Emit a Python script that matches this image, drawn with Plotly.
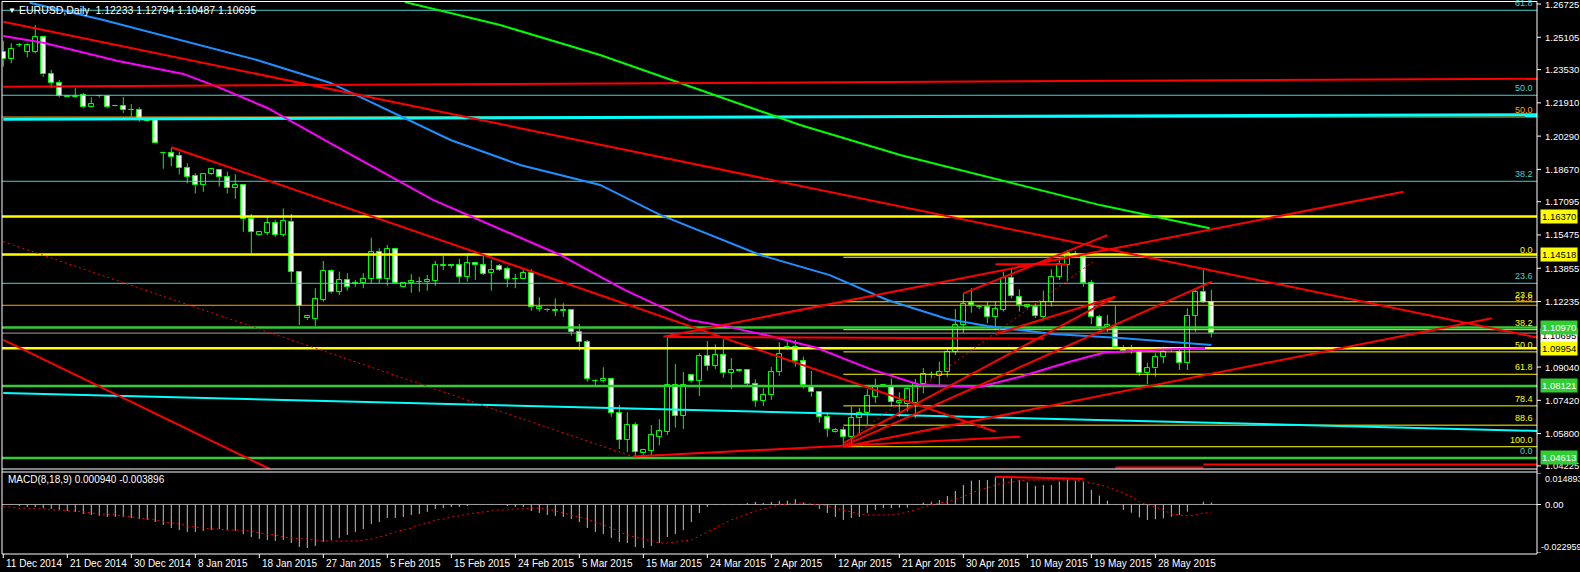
import plotly.graph_objects as go

W, H = 1580, 572

# ---------------- data ----------------
open_ = [1.2440,1.2403,1.2472,1.2440,1.2440,1.2510,1.2330,1.2286,1.2224,1.2218,
         1.2228,1.2169,1.2226,1.2224,1.2174,1.2174,1.2156,1.2156,1.2105,1.2107,
         1.1949,1.1945,1.1932,1.1874,1.1835,1.1789,1.1844,1.1862,1.1828,1.1775,
         1.1791,1.1624,1.1549,1.1559,1.1604,1.1549,1.1609,1.1366,1.1142,1.1140,
         1.1231,1.1371,1.1271,1.1327,1.1312,1.1312,1.1334,1.1463,1.1334,1.1478,
         1.1295,1.1312,1.1319,1.1317,1.1325,1.1397,1.1399,1.1400,1.1344,1.1409,
         1.1399,1.1361,1.1395,1.1380,1.1335,1.1334,1.1361,1.1188,1.1182,1.1176,
         1.1176,1.1181,1.1076,1.1028,1.0838,1.0836,1.0844,1.0682,1.0549,1.0620,
         1.0484,1.0497,1.0565,1.0589,1.0817,1.0667,1.0864,1.0838,1.0956,1.0911,
         1.0961,1.0877,1.0887,1.0888,1.0823,1.0740,1.0766,1.0879,1.0999,1.1000,
         1.0932,1.0808,1.0781,1.0659,1.0586,1.0596,1.0565,1.0654,1.0679,1.0760,
         1.0817,1.0808,1.0727,1.0724,1.0728,1.0821,1.0866,1.0862,1.0881,1.0977,
         1.1110,1.1215,1.1196,1.1195,1.1146,1.1182,1.1339,1.1247,1.1198,1.1198,
         1.1149,1.1220,1.1344,1.1403,1.1455,1.1442,1.1312,1.1146,1.1101,1.1101,
         1.0995,1.0978,1.0977,1.0874,1.0898,1.0955,1.0986,1.0979,1.0922,1.1153,
         1.1268,1.12233]
high = [1.2494,1.2481,1.2483,1.2481,1.2570,1.2517,1.2351,1.2302,1.2226,1.2263,
        1.2240,1.2218,1.2229,1.2229,1.2179,1.2220,1.2185,1.2169,1.2108,1.2112,
        1.1953,1.1971,1.1953,1.1897,1.1848,1.1846,1.1868,1.1866,1.1856,1.1844,
        1.1796,1.1650,1.1567,1.1635,1.1620,1.1677,1.1650,1.1369,1.1158,1.1288,
        1.1421,1.1380,1.1369,1.1361,1.1328,1.1361,1.1534,1.1483,1.1499,1.1480,
        1.1318,1.1357,1.1344,1.1353,1.1421,1.1445,1.1401,1.1431,1.1450,1.1417,
        1.1445,1.1426,1.1406,1.1393,1.1357,1.1377,1.1380,1.1244,1.1190,1.1239,
        1.1215,1.1187,1.1114,1.1036,1.0844,1.0903,1.0849,1.0719,1.0684,1.0635,
        1.0506,1.0622,1.0650,1.1047,1.0919,1.0880,1.0870,1.0971,1.1031,1.1015,
        1.1039,1.0948,1.0895,1.0893,1.0844,1.0801,1.0904,1.1025,1.1031,1.1036,
        1.0955,1.0885,1.0787,1.0684,1.0607,1.0614,1.0711,1.0706,1.0796,1.0849,
        1.0822,1.0849,1.0781,1.0804,1.0846,1.0899,1.0882,1.0930,1.0995,1.1187,
        1.1263,1.1288,1.1206,1.1222,1.1222,1.1369,1.1385,1.1283,1.1212,1.1211,
        1.1276,1.1380,1.1434,1.1474,1.1470,1.1450,1.1328,1.1158,1.1158,1.1201,
        1.1011,1.1011,1.0987,1.0925,1.0971,1.1003,1.0995,1.0987,1.1190,1.1279,
        1.1377,1.12794]
low = [1.2367,1.2384,1.2463,1.2413,1.2432,1.2318,1.2262,1.2218,1.2219,1.2215,
       1.2164,1.2167,1.2218,1.2164,1.2172,1.2142,1.2124,1.2099,1.2100,1.1995,
       1.1870,1.1883,1.1843,1.1799,1.1750,1.1758,1.1840,1.1783,1.1750,1.1724,
       1.1563,1.1458,1.1545,1.1547,1.1539,1.1539,1.1315,1.1109,1.1133,1.1104,
       1.1222,1.1263,1.1255,1.1276,1.1295,1.1288,1.1312,1.1312,1.1300,1.1309,
       1.1292,1.1266,1.1271,1.1276,1.1300,1.1377,1.1385,1.1315,1.1320,1.1328,
       1.1352,1.1276,1.1372,1.1293,1.1288,1.1333,1.1179,1.1174,1.1174,1.1153,
       1.1149,1.1057,1.0984,1.0833,1.0817,1.0828,1.0662,1.0505,1.0490,1.0467,
       1.0477,1.0476,1.0523,1.0573,1.0609,1.0602,1.0828,1.0763,1.0886,1.0895,
       1.0852,1.0797,1.0882,1.0817,1.0711,1.0714,1.0744,1.0861,1.0987,1.0906,
       1.0799,1.0760,1.0633,1.0565,1.0583,1.0524,1.0524,1.0570,1.0625,1.0730,
       1.0808,1.0711,1.0662,1.0687,1.0655,1.0776,1.0849,1.0817,1.0857,1.0963,
       1.1069,1.1169,1.1185,1.1117,1.1085,1.1174,1.1239,1.1174,1.1190,1.1143,
       1.1130,1.1198,1.1328,1.1320,1.1440,1.1295,1.1114,1.1085,1.1076,1.0995,
       1.0971,1.0968,1.0861,1.0821,1.0857,1.0922,1.0980,1.0890,1.0890,1.1076,
       1.1217,1.10487]
close = [1.2403,1.2452,1.2474,1.2471,1.2510,1.2330,1.2286,1.2224,1.2222,1.2224,
         1.2169,1.2184,1.2224,1.2169,1.2177,1.2155,1.2155,1.2107,1.2103,1.1997,
         1.1948,1.1929,1.1872,1.1831,1.1789,1.1844,1.1867,1.1828,1.1775,1.1791,
         1.1624,1.1563,1.1562,1.1604,1.1549,1.1614,1.1369,1.1203,1.1154,1.1234,
         1.1371,1.1271,1.1327,1.1295,1.1311,1.1332,1.1463,1.1332,1.1478,1.1315,
         1.1312,1.1322,1.1320,1.1328,1.1401,1.1399,1.1398,1.1344,1.1409,1.1399,
         1.1357,1.1375,1.1377,1.1334,1.1334,1.1361,1.1195,1.1195,1.1181,1.1182,
         1.1181,1.1076,1.1028,1.0846,1.0837,1.0844,1.0682,1.0549,1.0620,1.0492,
         1.0500,1.0572,1.0591,1.0817,1.0667,1.0817,1.0838,1.0956,1.0911,1.0961,
         1.0877,1.0888,1.0888,1.0823,1.0740,1.0766,1.0879,1.0966,1.1003,1.0932,
         1.0815,1.0781,1.0659,1.0604,1.0596,1.0565,1.0654,1.0679,1.0763,1.0808,
         1.0818,1.0735,1.0739,1.0799,1.0821,1.0870,1.0865,1.0881,1.0977,1.1110,
         1.1210,1.1205,1.1195,1.1146,1.1185,1.1336,1.1250,1.1205,1.1205,1.1153,
         1.1220,1.1344,1.1406,1.1458,1.1457,1.1312,1.1146,1.1101,1.1107,1.1003,
         1.0984,1.0977,1.0874,1.0898,1.0955,1.0979,1.0987,1.0922,1.1153,1.1268,
         1.1222,1.10695]

date_tick_bars = [0, 8, 16, 24, 32, 40, 48, 56, 64, 72, 80, 88, 96, 104, 112, 120, 128, 136, 144]
date_labels = ["11 Dec 2014", "21 Dec 2014", "30 Dec 2014", "8 Jan 2015", "18 Jan 2015",
               "27 Jan 2015", "5 Feb 2015", "15 Feb 2015", "24 Feb 2015", "5 Mar 2015",
               "15 Mar 2015", "24 Mar 2015", "2 Apr 2015", "12 Apr 2015", "21 Apr 2015",
               "30 Apr 2015", "10 May 2015", "19 May 2015", "28 May 2015"]

# moving averages (bar, price) vertices
blue_ma_bar = [3.3, 12.5, 31.7, 40.9, 55.9, 64.6, 74.6, 82.1, 94.6, 103.3, 110.5, 118, 123, 131.2, 139.6, 151]
blue_ma_val = [1.2679, 1.2595, 1.2400, 1.2288, 1.2010, 1.1888, 1.1791, 1.1645, 1.1450, 1.1352, 1.1231, 1.1138, 1.1104, 1.1065, 1.1046, 1.1012]
magenta_ma_bar = [0, 5, 14.2, 22.5, 26.7, 33, 40.9, 53.7, 69.6, 77.7, 85.8, 90.5, 96.2, 101.7, 108.3, 114.6, 122.1, 127.1, 133.3, 137.5, 143.3, 150.2]
magenta_ma_val = [1.2517, 1.2484, 1.2396, 1.2332, 1.2270, 1.2166, 1.1994, 1.1718, 1.1450, 1.1279, 1.1133, 1.1101, 1.1052, 1.0997, 1.0895, 1.0817, 1.0808, 1.0857, 1.0930, 1.0974, 1.0987, 1.0997]
green_ma_bar = [50.2, 62.1, 74.6, 87.1, 99.6, 112.1, 124.6, 137.1, 150.8]
green_ma_val = [1.2682, 1.2570, 1.2424, 1.2254, 1.2083, 1.1937, 1.1815, 1.1693, 1.1580]

# MACD(8,18,9)
macd_main = [-0.0002,-0.0002,-0.0007,-0.0012,-0.0012,-0.0017,-0.0021,-0.0026,-0.0031,-0.0035,
             -0.0045,-0.0050,-0.0054,-0.0059,-0.0059,-0.0059,-0.0064,-0.0069,-0.0073,-0.0083,
             -0.0097,-0.0111,-0.0121,-0.0130,-0.0130,-0.0125,-0.0121,-0.0116,-0.0121,-0.0125,
             -0.0140,-0.0154,-0.0163,-0.0168,-0.0173,-0.0168,-0.0182,-0.0201,-0.0206,-0.0196,
             -0.0177,-0.0168,-0.0158,-0.0144,-0.0130,-0.0116,-0.0092,-0.0083,-0.0064,-0.0064,
             -0.0059,-0.0050,-0.0045,-0.0035,-0.0021,-0.0017,-0.0012,-0.0012,-0.0007,-0.0002,
             -0.0002,-0.0002,-0.0002,-0.0007,-0.0012,-0.0012,-0.0031,-0.0040,-0.0050,-0.0054,
             -0.0059,-0.0069,-0.0083,-0.0111,-0.0130,-0.0140,-0.0158,-0.0177,-0.0182,-0.0201,
             -0.0206,-0.0196,-0.0182,-0.0154,-0.0140,-0.0121,-0.0083,-0.0040,-0.0012,-0.0002,
             0.0002,0.0002,0.0002,0.0007,0.0012,0.0007,0.0012,0.0017,0.0018,0.0025,
             0.0009,-0.0002,-0.0021,-0.0040,-0.0059,-0.0073,-0.0064,-0.0059,-0.0040,-0.0026,
             -0.0017,-0.0017,-0.0015,-0.0015,-0.0002,0.0009,0.0013,0.0021,0.0040,0.0064,
             0.0092,0.0113,0.0116,0.0116,0.0131,0.0131,0.0124,0.0116,0.0105,0.0088,
             0.0092,0.0092,0.0108,0.0119,0.0113,0.0108,0.0069,0.0042,0.0018,0.0002,
             -0.0026,-0.0039,-0.0061,-0.0073,-0.0070,-0.0065,-0.0058,-0.0050,-0.0034,0.0002,
             0.0013,0.000940]
macd_signal = [-0.0012,-0.0012,-0.0017,-0.0017,-0.0021,-0.0021,-0.0026,-0.0026,-0.0031,-0.0031,
               -0.0035,-0.0040,-0.0045,-0.0045,-0.0050,-0.0054,-0.0059,-0.0064,-0.0069,-0.0073,
               -0.0083,-0.0088,-0.0092,-0.0102,-0.0106,-0.0111,-0.0116,-0.0116,-0.0121,-0.0121,
               -0.0125,-0.0125,-0.0135,-0.0140,-0.0144,-0.0154,-0.0158,-0.0163,-0.0163,-0.0168,
               -0.0173,-0.0173,-0.0173,-0.0173,-0.0173,-0.0168,-0.0163,-0.0154,-0.0144,-0.0130,
               -0.0121,-0.0111,-0.0097,-0.0088,-0.0073,-0.0069,-0.0059,-0.0054,-0.0045,-0.0040,
               -0.0035,-0.0031,-0.0026,-0.0026,-0.0021,-0.0021,-0.0017,-0.0017,-0.0021,-0.0031,
               -0.0040,-0.0050,-0.0059,-0.0069,-0.0083,-0.0097,-0.0111,-0.0130,-0.0144,-0.0154,
               -0.0163,-0.0173,-0.0182,-0.0182,-0.0177,-0.0173,-0.0168,-0.0149,-0.0130,-0.0111,
               -0.0092,-0.0073,-0.0059,-0.0045,-0.0031,-0.0021,-0.0012,-0.0002,0.0002,0.0007,
               0.0007,0.0002,-0.0002,-0.0007,-0.0017,-0.0026,-0.0035,-0.0045,-0.0050,-0.0050,
               -0.0050,-0.0050,-0.0045,-0.0035,-0.0026,-0.0012,-0.0002,0.0007,0.0013,0.0026,
               0.0037,0.0054,0.0069,0.0078,0.0092,0.0102,0.0106,0.0111,0.0116,0.0116,
               0.0116,0.0116,0.0116,0.0116,0.0116,0.0111,0.0102,0.0092,0.0084,0.0069,
               0.0054,0.0037,0.0012,-0.0002,-0.0012,-0.0026,-0.0045,-0.0050,-0.0054,-0.0050,
               -0.0040,-0.003896]

# horizontal levels
yellow_levels = [1.16370, 1.14518, 1.09954]
green_levels = [1.10970, 1.08121, 1.04613]
current_price = 1.10695
teal_fib_names = ["61.8", "50.0", "38.2", "23.6", "0.0"]
teal_fib_levels = [1.2642, 1.2228, 1.1809, 1.1312, 1.0463]
orange_names = ["50.0", "61.8"]
orange_levels = [1.2122, 1.1205]
yellow_fib_start = 105
yellow_fib_names = ["0.0", "23.6", "38.2", "50.0", "61.8", "78.4", "88.6", "100.0"]
yellow_fib_levels = [1.1439, 1.1222, 1.1086, 1.0978, 1.0869, 1.0715, 1.0621, 1.0516]

# trend lines (bar0, price0, bar1, price1)
red_x0 = [0, 21.0, 78.7, 105, 105, 105, 82.5, 120, 124, 83, 124, 0, 0, 139, 150]
red_p0 = [1.2586, 1.1975, 1.0468, 1.0516, 1.0520, 1.0533, 1.1052, 1.1263, 1.1065, 1.1051, 1.1405, 1.2270, 1.1036, 1.0415, 1.0430]
red_x1 = [191.7, 124.05, 127.1, 186.05, 151.05, 139, 175, 138, 139, 130, 133, 191.7, 33.3, 150, 191.7]
red_p1 = [1.1048, 1.0589, 1.0565, 1.1142, 1.1320, 1.1247, 1.1758, 1.1547, 1.1247, 1.1042, 1.1405, 1.2309, 1.0408, 1.0415, 1.0430]
dot_x0 = [0, 106.2]
dot_p0 = [1.1515, 1.0565]
dot_x1 = [78.7, 136.2]
dot_p1 = [1.0468, 1.1417]
cyan_x0 = [0, 0]
cyan_p0 = [1.2111, 1.0778]
cyan_x1 = [191.7, 191.7]
cyan_p1 = [1.2133, 1.0593]
macd_trend = (124, 0.0131, 135, 0.0122)

price_ticks = [1.26725, 1.25105, 1.23530, 1.21910, 1.20290, 1.18670, 1.17095, 1.15475,
               1.13855, 1.12235, 1.09040, 1.07420, 1.05800, 1.04225]
macd_max, macd_zero, macd_min = 0.014893, 0.0, -0.022959

# ---------------- geometry ----------------
X_LEFT, X_RIGHT = -0.16, 191.7
MAIN_RANGE = [1.04075, 1.26823]
MACD_RANGE = [macd_min, macd_max]
def px(x): return x / W
def py(y): return 1 - y / H

GREEN = "#00FF00"
RED = "#FF0000"
TEAL = "#48D1CC"
YELLOW = "#FFFF00"
LGREEN = "#32CD32"
FONT = "Liberation Sans"

fig = go.Figure()

def seg(xs, ys, color, width, dash=None, axes=("x", "y")):
    fig.add_trace(go.Scatter(x=xs, y=ys, mode="lines",
                             line=dict(color=color, width=width, dash=dash),
                             xaxis=axes[0], yaxis=axes[1], hoverinfo="skip",
                             showlegend=False))

# candle bodies
n = len(open_)
idx = list(range(n))
base = [min(o, c) for o, c in zip(open_, close)]
hgt = [max(abs(c - o), 0.00004) for o, c in zip(open_, close)]
fillc = ["#FFFFFF" if c < o else "#000000" for o, c in zip(open_, close)]
fig.add_trace(go.Bar(x=idx, y=hgt, base=base, width=0.6,
                     marker=dict(color=fillc, line=dict(color=GREEN, width=1)),
                     xaxis="x", yaxis="y", hoverinfo="skip", showlegend=False))

# wicks
wx, wy = [], []
for i, (o, h, l, c) in enumerate(zip(open_, high, low, close)):
    top, bot = max(o, c), min(o, c)
    if h > top:
        wx += [i, i, None]; wy += [h, top, None]
    if l < bot:
        wx += [i, i, None]; wy += [bot, l, None]
seg(wx, wy, GREEN, 1)

# horizontal level lines
for p in teal_fib_levels:
    seg([X_LEFT, X_RIGHT], [p, p], TEAL, 1)
for p in orange_levels:
    seg([X_LEFT, X_RIGHT], [p, p], "#FFA500", 1)
for p in yellow_fib_levels:
    seg([yellow_fib_start, X_RIGHT], [p, p], YELLOW, 1)
seg([X_LEFT, X_RIGHT], [current_price, current_price], "#A0A0A0", 1)
for p in green_levels:
    seg([X_LEFT, X_RIGHT], [p, p], LGREEN, 2.5)
for p in yellow_levels:
    seg([X_LEFT, X_RIGHT], [p, p], YELLOW, 2.5)

# cyan lines
seg([cyan_x0[0], cyan_x1[0]], [cyan_p0[0], cyan_p1[0]], "#00FFFF", 3)
seg([cyan_x0[1], cyan_x1[1]], [cyan_p0[1], cyan_p1[1]], "#00FFFF", 2)

# moving averages
seg(blue_ma_bar, blue_ma_val, "#1E90FF", 2)
seg(magenta_ma_bar, magenta_ma_val, "#FF00FF", 2)
seg(green_ma_bar, green_ma_val, "#00FF00", 2)

# red trend lines
for a, b, c, d in zip(red_x0, red_p0, red_x1, red_p1):
    seg([a, c], [b, d], RED, 2)
for a, b, c, d in zip(dot_x0, dot_p0, dot_x1, dot_p1):
    seg([a, c], [b, d], RED, 1, dash="2px,3px")

# MACD
hx, hy = [], []
for i, v in enumerate(macd_main):
    hx += [i, i, None]; hy += [0, v, None]
seg([X_LEFT, X_RIGHT], [0, 0], "#A0A0A0", 1, axes=("x2", "y2"))
seg(hx, hy, "#C0C0C0", 1, axes=("x2", "y2"))
seg(idx, macd_signal, RED, 1, dash="2px,3px", axes=("x2", "y2"))
seg([macd_trend[0], macd_trend[2]], [macd_trend[1], macd_trend[3]], RED, 2, axes=("x2", "y2"))

# ---------------- annotations ----------------
ann = []
def text(x, y, s, color="#FFFFFF", size=9.5, xref="paper", yref="paper", xanchor="left",
         yanchor="middle", bg=None, **kw):
    d = dict(x=x, y=y, xref=xref, yref=yref, text=s, showarrow=False,
             font=dict(family=FONT, size=size, color=color), xanchor=xanchor,
             yanchor=yanchor)
    if bg:
        d.update(bgcolor=bg, borderpad=1)
    d.update(kw)
    ann.append(d)

text(px(6), py(10), "▼", size=8)
text(px(17), py(10), "EURUSD,Daily  1.12233 1.12794 1.10487 1.10695", size=10.5)
text(px(6), py(479), "MACD(8,18,9) 0.000940 -0.003896", size=10)

for p in price_ticks:
    text(px(1543), p, f"{p:.5f}", yref="y")
text(px(1543), py(479), f"{macd_max:.6f}", size=9)
text(px(1543), macd_zero, "0.00", yref="y2")
text(px(1539), py(547), f"{macd_min:.6f}", size=9)

text(px(1540), current_price, f"{current_price:.5f}", color="#000000", yref="y", bg="#FFFFFF", yshift=-2)
for p in green_levels:
    text(px(1540), p, f"{p:.5f}", color="#FFFFFF", yref="y", bg=LGREEN)
for p in yellow_levels:
    text(px(1540), p, f"{p:.5f}", color="#000000", yref="y", bg=YELLOW)

for s, p in zip(teal_fib_names, teal_fib_levels):
    text(px(1535), p, s, color=TEAL, yref="y", xanchor="right", yanchor="bottom", size=9)
for s, p in zip(orange_names, orange_levels):
    text(px(1535), p, s, color="#FFA500", yref="y", xanchor="right", yanchor="bottom", size=9)
for s, p in zip(yellow_fib_names, yellow_fib_levels):
    text(px(1535), p, s, color=YELLOW, yref="y", xanchor="right", yanchor="bottom", size=9)

for b, s in zip(date_tick_bars, date_labels):
    text(b, py(563), s, xref="x", size=10, xshift=1)

# ---------------- shapes (frame, ticks) ----------------
shapes = []
def line(x0, y0, x1, y1, color="#FFFFFF", width=1, xref="paper", yref="paper"):
    shapes.append(dict(type="line", x0=x0, y0=y0, x1=x1, y1=y1, xref=xref, yref=yref,
                       line=dict(color=color, width=width), layer="above"))

line(px(2), py(1.5), px(1537), py(1.5))
line(px(2), py(1.5), px(2), py(554))
line(px(1537), py(1.5), px(1537), py(554))
line(px(2), py(469), px(1537), py(469))
line(px(2), py(472), px(1537), py(472))
line(px(2), py(554), px(1537), py(554))
for p in price_ticks:
    line(px(1537), p, px(1541), p, yref="y")
for v in (macd_max, macd_zero, macd_min):
    line(px(1537), v, px(1541), v, yref="y2")
for b in date_tick_bars:
    line(b, py(554), b, py(558), xref="x")

axis_common = dict(showgrid=False, zeroline=False, showticklabels=False, ticks="",
                   showline=False)
fig.update_layout(
    width=W, height=H, margin=dict(l=0, r=0, t=0, b=0),
    paper_bgcolor="#000000", plot_bgcolor="#000000",
    showlegend=False, bargap=0,
    xaxis=dict(domain=[px(2), px(1537)], range=[X_LEFT, X_RIGHT], anchor="y", **axis_common),
    xaxis2=dict(domain=[px(2), px(1537)], range=[X_LEFT, X_RIGHT], anchor="y2",
                matches="x", **axis_common),
    yaxis=dict(domain=[py(469), py(2)], range=MAIN_RANGE, anchor="x", **axis_common),
    yaxis2=dict(domain=[py(553), py(473)], range=MACD_RANGE, anchor="x2", **axis_common),
    annotations=ann, shapes=shapes,
)

fig.write_html("out.html", config={"displayModeBar": False},
               post_script="document.body.style.margin='0';document.body.style.overflow='hidden';")
